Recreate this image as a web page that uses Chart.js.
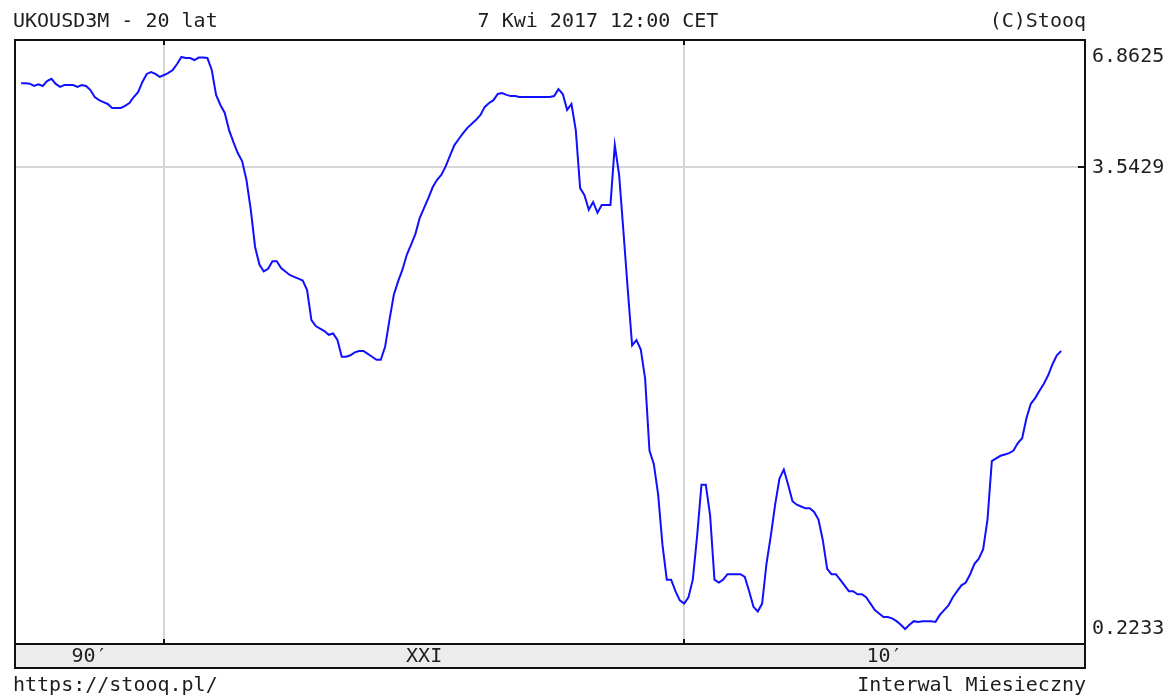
<!DOCTYPE html>
<html>
<head>
<meta charset="utf-8">
<script src="https://cdn.jsdelivr.net/npm/chart.js@4/dist/chart.umd.min.js"></script>
<style>
  body { margin: 0; background: #fff; }
  #wrap { width: 1173px; height: 700px; }
</style>
</head>
<body>
<div id="wrap"><canvas id="chart" width="1173" height="700"></canvas></div>
<script>
// UK USD 3M rate, monthly, Apr 1997 .. Apr 2017
const startOffset = -33; // Apr 1997 in months from Jan 2000
const rates = [
  5.86, 5.86, 5.85, 5.77, 5.83, 5.77, 5.94, 6.02, 5.84,
  5.74, 5.80, 5.80, 5.80, 5.74, 5.80, 5.77, 5.63, 5.40, 5.30, 5.24, 5.18,
  5.06, 5.06, 5.06, 5.12, 5.21, 5.40, 5.56, 5.91, 6.20, 6.27, 6.20, 6.09,
  6.16, 6.24, 6.35, 6.58, 6.8625, 6.82, 6.82, 6.74, 6.84, 6.84, 6.82, 6.35,
  5.47, 5.15, 4.91, 4.43, 4.12, 3.86, 3.68, 3.29, 2.75, 2.20, 1.98, 1.90,
  1.93, 2.02, 2.02, 1.94, 1.90, 1.86, 1.84, 1.82, 1.80, 1.70, 1.42, 1.37,
  1.35, 1.33, 1.30, 1.31, 1.26, 1.14, 1.14, 1.15, 1.17, 1.18, 1.18, 1.16,
  1.14, 1.12, 1.12, 1.21, 1.42, 1.65, 1.79, 1.92, 2.10, 2.23, 2.38, 2.62,
  2.78, 2.95, 3.15, 3.29, 3.39, 3.57, 3.81, 4.05, 4.20, 4.35, 4.49, 4.60,
  4.71, 4.85, 5.09, 5.21, 5.30, 5.50, 5.53, 5.47, 5.43, 5.43, 5.40, 5.40,
  5.40, 5.40, 5.40, 5.40, 5.40, 5.40, 5.43, 5.66, 5.50, 5.00, 5.18, 4.43,
  3.13, 3.00, 2.75, 2.88, 2.70, 2.83, 2.83, 2.83, 4.05, 3.39, 2.41, 1.70,
  1.22, 1.26, 1.19, 1.00, 0.65, 0.60, 0.50, 0.37, 0.30, 0.30, 0.28, 0.265,
  0.26, 0.27, 0.30, 0.39, 0.53, 0.53, 0.44, 0.30, 0.295, 0.30, 0.31, 0.31,
  0.31, 0.31, 0.305, 0.28, 0.255, 0.248, 0.26, 0.33, 0.39, 0.47, 0.55, 0.58,
  0.53, 0.48, 0.47, 0.465, 0.46, 0.46, 0.45, 0.43, 0.38, 0.32, 0.31, 0.31,
  0.30, 0.29, 0.28, 0.28, 0.275, 0.275, 0.27, 0.26, 0.25, 0.245, 0.24, 0.24,
  0.238, 0.234, 0.229, 0.2233, 0.229, 0.234, 0.233, 0.234, 0.234, 0.234, 0.233, 0.243,
  0.25, 0.257, 0.27, 0.28, 0.29, 0.295, 0.31, 0.33, 0.34, 0.36, 0.43, 0.61,
  0.62, 0.63, 0.635, 0.64, 0.65, 0.68, 0.70, 0.79, 0.86, 0.89, 0.93, 0.97,
  1.02, 1.09, 1.15, 1.18
];

const yTicks = [6.8625, 3.5429, 0.2233];
const yTickLabels = ['6.8625', '3.5429', '0.2233'];

const xMin = -34.4, xMax = 212.5;      // months from Jan 2000
const xGrid = [0, 120];                // Jan 2000, Jan 2010
const eraLabels = ['90\u2032', 'XXI', '10\u2032'];
const eraBounds = [xMin, 0, 120, xMax];

const title = 'UKOUSD3M - 20 lat';
const stamp = '7 Kwi 2017 12:00 CET';
const copyright = '(C)Stooq';
const site = 'https://stooq.pl/';
const interval = 'Interwal Miesieczny';

const FONT = '"DejaVu Sans Mono", monospace';
const TXT = '#1e1e1e';
const GRID = '#d6d6d6';

const eraCenters = eraLabels.map((_, i) => (eraBounds[i] + eraBounds[i + 1]) / 2);
const xTickVals = xGrid.concat(eraCenters).sort((a, b) => a - b);

const frame = {
  id: 'frame',
  beforeDraw(c) {
    const a = c.chartArea, g = c.ctx;
    g.save();
    g.fillStyle = '#ececec';
    g.fillRect(a.left, a.bottom, a.right - a.left, 24);
    g.restore();
  },
  afterDraw(c) {
    const a = c.chartArea, g = c.ctx;
    g.save();
    g.strokeStyle = '#111';
    g.lineWidth = 2;
    g.strokeRect(a.left, a.top, a.right - a.left, a.bottom - a.top);
    g.strokeRect(a.left, a.bottom, a.right - a.left, 24);
    // small tick marks
    xGrid.forEach(v => {
      const px = Math.round(c.scales.x.getPixelForValue(v));
      g.beginPath();
      g.moveTo(px, a.top); g.lineTo(px, a.top + 5);
      g.moveTo(px, a.bottom - 5); g.lineTo(px, a.bottom);
      g.stroke();
    });
    const py = Math.round(c.scales.y.getPixelForValue(yTicks[1]));
    g.beginPath();
    g.moveTo(a.right - 7, py); g.lineTo(a.right, py);
    g.stroke();

    g.fillStyle = TXT;
    g.font = '20px ' + FONT;
    g.textBaseline = 'middle';
    g.textAlign = 'left';
    g.fillText(title, 13, 22);
    g.fillText(site, 13, 686);
    g.textAlign = 'center';
    g.fillText(stamp, 598, 22);
    g.textAlign = 'right';
    g.fillText(copyright, 1086, 22);
    g.fillText(interval, 1086, 686);
    g.restore();
  }
};

new Chart(document.getElementById('chart'), {
  type: 'line',
  data: {
    datasets: [{
      data: rates.map((v, i) => ({ x: startOffset + i, y: v })),
      borderColor: '#1010ff',
      borderWidth: 2,
      pointRadius: 0,
      tension: 0,
      fill: false
    }]
  },
  options: {
    responsive: false,
    animation: false,
    events: [],
    layout: { padding: { left: 15, top: 40, right: 0, bottom: 0 } },
    plugins: { legend: { display: false }, tooltip: { enabled: false } },
    scales: {
      x: {
        type: 'linear',
        min: xMin,
        max: xMax,
        bounds: 'data',
        afterBuildTicks: ax => { ax.ticks = xTickVals.map(v => ({ value: v })); },
        afterFit: ax => { ax.height = 56; },
        grid: {
          drawTicks: false,
          lineWidth: 2,
          color: ctx => (ctx.tick && xGrid.includes(ctx.tick.value)) ? GRID : 'rgba(0,0,0,0)'
        },
        border: { display: false },
        ticks: {
          autoSkip: false,
          maxRotation: 0,
          padding: 1,
          color: TXT,
          font: { family: FONT, size: 20 },
          callback: v => {
            const i = eraCenters.indexOf(v);
            return i >= 0 ? eraLabels[i] : '';
          }
        }
      },
      y: {
        type: 'logarithmic',
        position: 'right',
        min: 0.2041,
        max: 7.598,
        bounds: 'data',
        afterBuildTicks: ax => { ax.ticks = yTicks.map(v => ({ value: v })); },
        afterFit: ax => { ax.width = 88; },
        grid: {
          drawTicks: false,
          lineWidth: 2,
          color: ctx => (ctx.tick && ctx.tick.value === yTicks[1]) ? GRID : 'rgba(0,0,0,0)'
        },
        border: { display: false },
        ticks: {
          padding: 7,
          color: TXT,
          font: { family: FONT, size: 20 },
          callback: v => {
            const i = yTicks.indexOf(v);
            return i >= 0 ? yTickLabels[i] : '';
          }
        }
      }
    }
  },
  plugins: [frame]
});
</script>
</body>
</html>
